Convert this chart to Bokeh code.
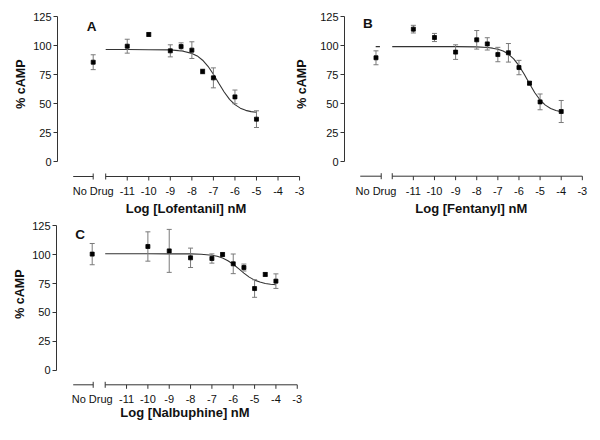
from bokeh.plotting import figure
from bokeh.layouts import row, column
from bokeh.models import Range1d, FixedTicker, Title
from bokeh.core.properties import value
from bokeh.embed import file_html
from bokeh.resources import INLINE

# ---------------- data ----------------
tick_values = [-11, -10, -9, -8, -7, -6, -5, -4, -3]
tick_labels = ["-11", "-10", "-9", "-8", "-7", "-6", "-5", "-4", "-3"]
y_ticks = [0, 25, 50, 75, 100, 125]
nodrug_label = "No Drug"
y_title = "% cAMP"

# Panel A: Lofentanil
lof_conc = [-11, -10, -9, -8.5, -8, -7.5, -7, -6, -5]
lof_mean = [99.4, 109.5, 95.4, 99.1, 96.0, 77.6, 72.1, 55.7, 36.5]
lof_err = [6.0, 1.5, 5.2, 3.2, 7.2, 2.0, 8.6, 5.9, 7.2]
lof_nodrug_mean = 85.6
lof_nodrug_err = 6.4
lof_fit_x = [-12, -11, -10, -9, -8.5, -8, -7.75, -7.5, -7.25, -7, -6.75,
             -6.5, -6.25, -6, -5.75, -5.5, -5.25, -5]
lof_fit_y = [96.5, 96.5, 96.4, 96.2, 95.4, 93.2, 91.0, 87.3, 82.1, 75.2, 67.4,
             59.9, 53.6, 49.0, 46.0, 44.1, 43.0, 42.4]

# Panel B: Fentanyl
fen_conc = [-11, -10, -9, -8, -7.5, -7, -6.5, -6, -5.5, -5, -4]
fen_mean = [114.1, 106.9, 94.3, 104.9, 101.4, 92.2, 93.7, 81.0, 67.5, 51.4, 43.1]
fen_err = [3.3, 3.5, 6.3, 8.0, 5.3, 6.2, 8.0, 6.2, 1.5, 6.8, 9.5]
fen_nodrug_mean = 89.4
fen_nodrug_err = 6.0
fen_fit_x = [-12, -11, -10, -9, -8, -7.5, -7.25, -7, -6.75, -6.5, -6.25, -6,
             -5.75, -5.5, -5.25, -5, -4.75, -4.5, -4.25, -4]
fen_fit_y = [99.0, 99.0, 99.0, 99.0, 98.8, 98.3, 97.7, 96.8, 95.2, 92.6, 88.5, 82.6,
             75.2, 67.0, 59.3, 53.0, 48.6, 45.7, 44.0, 42.9]

# Panel C: Nalbuphine
nal_conc = [-10, -9, -8, -7, -6.5, -6, -5.5, -5, -4.5, -4]
nal_mean = [107.1, 103.3, 97.3, 96.7, 100.2, 92.1, 88.9, 70.7, 82.9, 77.1]
nal_err = [12.7, 18.6, 8.4, 4.0, 1.5, 8.5, 3.0, 7.6, 1.5, 6.3]
nal_nodrug_mean = 100.5
nal_nodrug_err = 9.2
nal_fit_x = [-12, -11, -10, -9, -8, -7.5, -7, -6.75, -6.5, -6.25, -6, -5.75,
             -5.5, -5.25, -5, -4.75, -4.5, -4.25, -4]
nal_fit_y = [100.8, 100.8, 100.8, 100.7, 100.7, 100.4, 99.5, 98.6, 97.1, 94.8, 91.7, 87.9,
             84.1, 80.6, 78.0, 76.3, 75.1, 74.4, 74.0]

# ---------------- layout geometry (screenshot pixels) ----------------
GEO_A = dict(cx=0, cy=0, w=308, h=220, axis_px=57, px12=105.2, sx=21.54, py0=161.0, sy=1.16,
             axis_y=176.0, nd_px=92.7, seg1=(72.7, 92.7), lab_y=190.0,
             title_xy=(185.5, 208.3), letter_xy=(91.0, 26.0), yt_offset=59, yt_standoff=6)
GEO_B = dict(cx=283, cy=0, w=311, h=220, axis_px=340, px12=388.5, sx=21.46, py0=161.0, sy=1.16,
             axis_y=175.7, nd_px=372.0, seg1=(356.0, 377.3), lab_y=190.0,
             title_xy=(468.8, 208.3), letter_xy=(363.8, 23.0), nd_dash=(371.7, 376.0),
             yt_offset=59, yt_standoff=18)
GEO_C = dict(cx=0, cy=220, w=308, h=210, axis_px=56, px12=104.7, sx=21.34, py0=369.7, sy=1.155,
             axis_y=384.3, nd_px=91.7, seg1=(72.7, 92.7), lab_y=398.3,
             title_xy=(184.5, 412.0), letter_xy=(79.5, 234.2), yt_offset=49, yt_standoff=6)

FONT = value("Liberation Sans")
AXIS_COLOR = "#333333"
ERR_COLOR = "#7a7a7a"
TEXT_COLOR = "#111111"


def panel(letter, drug_title, conc, mean, err, nd_mean, nd_err, fit_x, fit_y, g,
          nd_fit=None, margin=None):
    def xd(px):
        return -12 + (px - g["px12"]) / g["sx"]

    def yd(py):
        return (g["py0"] - py) / g["sy"]

    left = g["axis_px"]
    right = g["cx"] + g["w"]
    top = g["cy"]
    bottom = g["cy"] + g["h"]
    kw = {}
    if margin is not None:
        kw["margin"] = margin
    p = figure(width=g["w"], height=g["h"],
               x_range=Range1d(xd(left), xd(right)),
               y_range=Range1d(yd(bottom), yd(top)),
               x_axis_location=None, title=None,
               output_backend="svg", toolbar_location=None,
               min_border_left=left - g["cx"], min_border_right=0,
               min_border_top=0, min_border_bottom=0,
               background_fill_color=None, border_fill_color=None,
               outline_line_color=None, **kw)
    p.grid.visible = False

    # y axis (real Bokeh axis)
    ax = p.yaxis[0]
    ax.ticker = FixedTicker(ticks=y_ticks)
    ax.bounds = (0, 125)
    ax.axis_line_color = AXIS_COLOR
    ax.major_tick_line_color = AXIS_COLOR
    ax.minor_tick_line_color = None
    ax.major_tick_out = 4
    ax.major_tick_in = 0
    ax.major_label_standoff = 2
    ax.major_label_text_font = "Liberation Sans"
    ax.major_label_text_font_size = "11px"
    ax.major_label_text_color = TEXT_COLOR

    # y axis title in the left panel, shifted to sit beside the bounded axis
    p.add_layout(Title(text=y_title, align="right", offset=g["yt_offset"],
                       vertical_align="bottom", standoff=g["yt_standoff"],
                       text_font="Liberation Sans", text_font_size="12.5px",
                       text_font_style="bold", text_color=TEXT_COLOR), "left")

    # x axis with break, drawn in data space
    yax = yd(g["axis_y"])
    tick_dn = 4.0 / g["sy"]
    brk = 3.0 / g["sy"]
    s0, s1 = xd(g["seg1"][0]), xd(g["seg1"][1])
    p.segment(x0=[s0, -12], y0=[yax, yax], x1=[s1, tick_values[-1]], y1=[yax, yax],
              line_color=AXIS_COLOR, line_width=1)
    p.segment(x0=tick_values, y0=[yax] * len(tick_values), x1=tick_values,
              y1=[yax - tick_dn] * len(tick_values), line_color=AXIS_COLOR, line_width=1)
    p.segment(x0=[s1, -12], y0=[yax - brk, yax - brk], x1=[s1, -12], y1=[yax + brk, yax + brk],
              line_color=AXIS_COLOR, line_width=1)
    ylab = yd(g["lab_y"])
    nd_x = xd(g["nd_px"])
    p.text(x=tick_values + [nd_x], y=[ylab] * (len(tick_values) + 1),
           text=tick_labels + [nodrug_label], text_font=FONT, text_font_size="11px",
           text_color=TEXT_COLOR, text_align="center", text_baseline="middle")
    p.text(x=[xd(g["title_xy"][0])], y=[yd(g["title_xy"][1])], text=[drug_title],
           text_font=FONT, text_font_size="13px", text_font_style="bold",
           text_color=TEXT_COLOR, text_align="center", text_baseline="middle")
    p.text(x=[xd(g["letter_xy"][0])], y=[yd(g["letter_xy"][1])], text=[letter],
           text_font=FONT, text_font_size="13.5px", text_font_style="bold",
           text_color=TEXT_COLOR, text_align="center", text_baseline="middle")

    # fitted curve
    p.line(fit_x, fit_y, line_color="#333333", line_width=1.1)
    if nd_fit is not None:
        p.line([xd(g["nd_dash"][0]), xd(g["nd_dash"][1])], [nd_fit, nd_fit],
               line_color="#333333", line_width=1.1)

    # error bars
    xs = conc + [nd_x]
    ms = mean + [nd_mean]
    es = err + [nd_err]
    lo = [m - e for m, e in zip(ms, es)]
    hi = [m + e for m, e in zip(ms, es)]
    p.segment(x0=xs, y0=lo, x1=xs, y1=hi, line_color=ERR_COLOR, line_width=1)
    p.scatter(x=xs + xs, y=lo + hi, marker="dash", size=5, line_color=ERR_COLOR, line_width=1)
    # means
    p.scatter(x=xs, y=ms, marker="square", size=4, fill_color="black", line_color="black",
              line_width=0.8)
    return p


pA = panel("A", "Log [Lofentanil] nM", lof_conc, lof_mean, lof_err, lof_nodrug_mean,
           lof_nodrug_err, lof_fit_x, lof_fit_y, GEO_A)
pB = panel("B", "Log [Fentanyl] nM", fen_conc, fen_mean, fen_err, fen_nodrug_mean,
           fen_nodrug_err, fen_fit_x, fen_fit_y, GEO_B, nd_fit=fen_fit_y[0],
           margin=(0, 0, 0, GEO_B["cx"] - (GEO_A["cx"] + GEO_A["w"])))
pC = panel("C", "Log [Nalbuphine] nM", nal_conc, nal_mean, nal_err, nal_nodrug_mean,
           nal_nodrug_err, nal_fit_x, nal_fit_y, GEO_C)

layout = column(row(pA, pB), pC)
open("out.html", "w").write(file_html(layout, INLINE))
